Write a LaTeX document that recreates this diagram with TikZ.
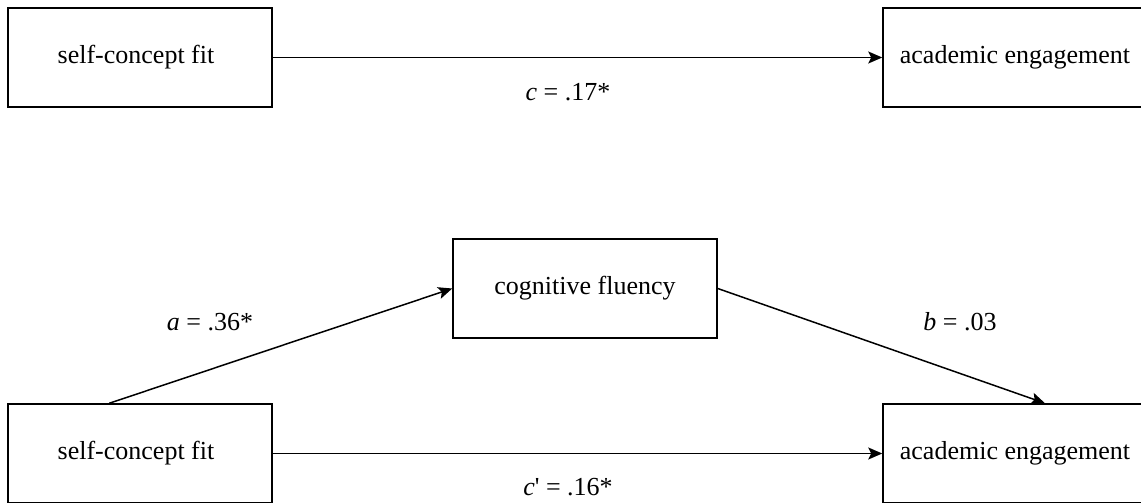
\documentclass[tikz,border=0pt]{standalone}
\usepackage{fontspec}
\setmainfont{Liberation Serif}
\usetikzlibrary{arrows.meta}
\begin{document}
\begin{tikzpicture}[x=1pt,y=-1pt,
  box/.style={draw, line width=1.5pt, minimum width=264pt, minimum height=99pt, inner sep=0pt, font=\fontsize{26}{30}\selectfont},
  lbl/.style={inner sep=0pt, font=\fontsize{26}{30}\selectfont},
  conn/.style={line width=1.5pt, -{Stealth[length=14pt,width=12pt,inset=3pt]}}]
\useasboundingbox (0,0) rectangle (1141,503);
\begin{scope}
\clip (0,0) rectangle (1141,503);
\node[box] (tl) at (140,57.5) {\hspace*{-8pt}self-concept fit};
\node[box] (tr) at (1015,57.5) {academic engagement};
\node[box] (cf) at (585,288.5) {cognitive fluency};
\node[box] (bl) at (140,453.5) {\hspace*{-8pt}self-concept fit};
\node[box] (br) at (1015,453.5) {academic engagement};
\coordinate (astart) at ([xshift=102pt]bl.north west);
\coordinate (bend) at ([xshift=30pt]br.north);
\draw[conn] (tl.east) -- (tr.west);
\draw[conn] (bl.east) -- (br.west);
\draw[conn] (astart) -- (cf.west);
\draw[conn] (cf.east) -- (bend);
\node[lbl] (lc) at (568,92) {\textit{c} = .17*};
\node[lbl] (lcp) at (568,487) {\textit{c}\textquotesingle\ = .16*};
\node[lbl] (la) at (210,322) {\textit{a} = .36*};
\node[lbl] (lb) at (960,322) {\textit{b} = .03};
\end{scope}
\end{tikzpicture}
\end{document}
